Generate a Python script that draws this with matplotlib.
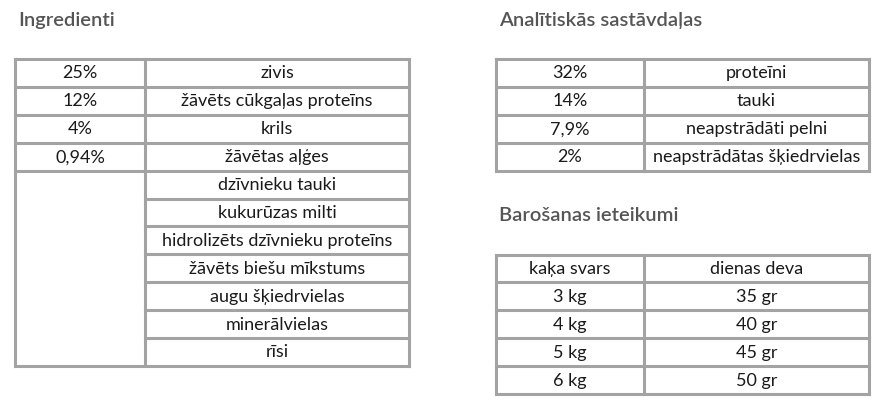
import matplotlib
matplotlib.use("Agg")
import matplotlib.pyplot as plt

# ---- data ----
ingr_pct = ["25%", "12%", "4%", "0,94%"]
ingr_names = ["zivis", "žāvēts cūkgaļas proteīns", "krils", "žāvētas aļģes",
              "dzīvnieku tauki", "kukurūzas milti", "hidrolizēts dzīvnieku proteīns",
              "žāvēts biešu mīkstums", "augu šķiedrvielas", "minerālvielas", "rīsi"]
anal_pct = ["32%", "14%", "7,9%", "2%"]
anal_names = ["proteīni", "tauki", "neapstrādāti pelni", "neapstrādātas šķiedrvielas"]
feed_header = ["kaķa svars", "dienas deva"]
feed_weight = ["3 kg", "4 kg", "5 kg", "6 kg"]
feed_dose = ["35 gr", "40 gr", "45 gr", "50 gr"]
titles = ["Ingredienti", "Analītiskās sastāvdaļas", "Barošanas ieteikumi"]

# ---- layout ----
W, H = 886, 412
fig = plt.figure(figsize=(W / 100, H / 100), dpi=100)
ax = fig.add_axes([0, 0, 1, 1])
ax.set_xlim(0, W)
ax.set_ylim(H, 0)
ax.axis("off")

FONT = "Lato"
LC = "#a3a3a3"
LW = 2.2
TXT = "#1a1a1a"
ROW = 27.9
FS = 13


def hline(x0, x1, y):
    ax.plot([x0, x1], [y, y], color=LC, lw=LW, solid_capstyle="projecting")


def vline(x, y0, y1):
    ax.plot([x, x], [y0, y1], color=LC, lw=LW, solid_capstyle="projecting")


def cell_text(x0, x1, y, s):
    ax.text((x0 + x1) / 2, y + ROW / 2 + 0.5, s, ha="center", va="center",
            fontsize=FS, color=TXT, family=FONT)


def title(x, y, s):
    ax.text(x, y, s, ha="left", va="center", fontsize=14.5, color="#555555",
            family=FONT, fontweight="semibold")


# Ingredients table
lx0, lxm, lx1, ty = 15, 145, 409, 59
n = len(ingr_names)
title(18, 20, titles[0])
for i in range(n + 1):
    y = ty + i * ROW
    if i <= len(ingr_pct) or i == n:
        hline(lx0, lx1, y)
    else:
        hline(lxm, lx1, y)
vline(lx0, ty, ty + n * ROW)
vline(lxm, ty, ty + n * ROW)
vline(lx1, ty, ty + n * ROW)
for i, s in enumerate(ingr_pct):
    cell_text(lx0, lxm, ty + i * ROW, s)
for i, s in enumerate(ingr_names):
    cell_text(lxm, lx1, ty + i * ROW, s)

# Analytical table
rx0, rxm, rx1 = 496, 644, 869
title(499, 20, titles[1])
m = len(anal_names)
for i in range(m + 1):
    hline(rx0, rx1, ty + i * ROW)
for x in (rx0, rxm, rx1):
    vline(x, ty, ty + m * ROW)
for i in range(m):
    cell_text(rx0, rxm, ty + i * ROW, anal_pct[i])
    cell_text(rxm, rx1, ty + i * ROW, anal_names[i])

# Feeding table
fy = 254.5
title(499, 215, titles[2])
rows = [feed_header] + list(zip(feed_weight, feed_dose))
k = len(rows)
for i in range(k + 1):
    hline(rx0, rx1, fy + i * ROW)
for x in (rx0, rxm, rx1):
    vline(x, fy, fy + k * ROW)
for i, (a, b) in enumerate(rows):
    cell_text(rx0, rxm, fy + i * ROW, a)
    cell_text(rxm, rx1, fy + i * ROW, b)

fig.savefig("out.png", dpi=100, facecolor="white")
